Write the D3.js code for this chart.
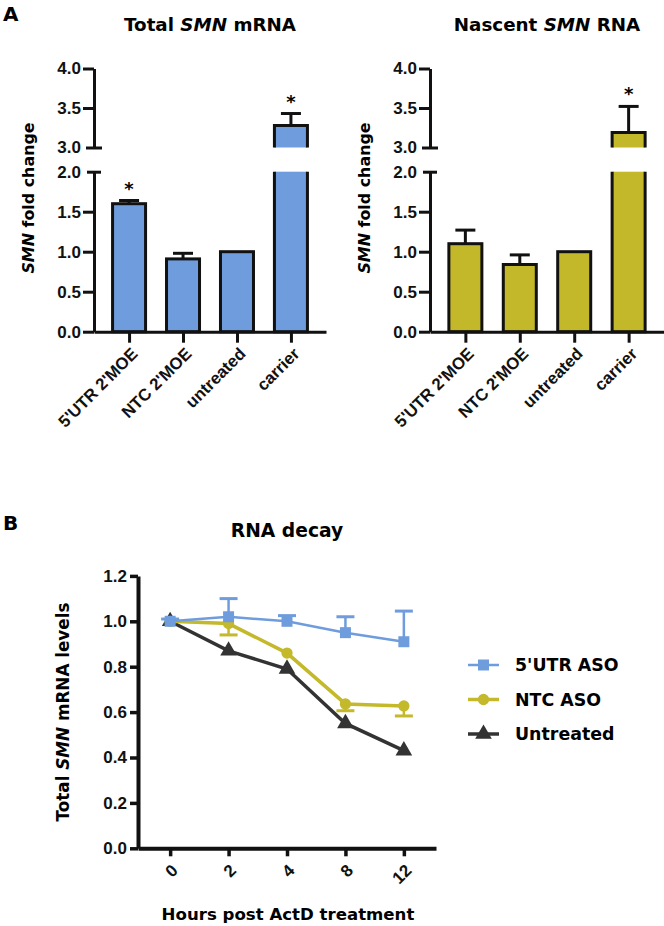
<!DOCTYPE html>
<html>
<head>
<meta charset="utf-8">
<script src="https://cdn.jsdelivr.net/npm/d3@7"></script>
<style>
  body { margin: 0; background: #fff; }
  svg { font-family: 'DejaVu Sans', sans-serif; font-weight: bold; }
</style>
</head>
<body>
<div id="chart"></div>
<script>
// Panel A data
const categories = ["5'UTR 2'MOE", "NTC 2'MOE", 'untreated', 'carrier']
const totalMean = [1.6, 0.91, 1.0, 3.28]
const totalErr = [0.04, 0.07, 0, 0.15]
const totalStar = [true, false, false, true]
const nascentMean = [1.1, 0.84, 1.0, 3.19]
const nascentErr = [0.17, 0.12, 0, 0.33]
const nascentStar = [false, false, false, true]
const lowTicks = [0, 0.5, 1.0, 1.5, 2.0]
const highTicks = [3.0, 3.5, 4.0]

// Panel B data
const hours = ['0', '2', '4', '8', '12']
const utrMean = [1.0, 1.02, 1.0, 0.95, 0.91]
const utrErr = [0.01, 0.08, 0.025, 0.07, 0.135]
const ntcMean = [1.0, 0.99, 0.86, 0.636, 0.627]
const ntcErr = [0, 0.05, 0, 0.03, 0.044]
const untMean = [1.0, 0.87, 0.79, 0.55, 0.43]
const decayTicks = [0, 0.2, 0.4, 0.6, 0.8, 1.0, 1.2]

const blue = '#6f9cdc',
  yellow = '#c4b92a',
  dark = '#333333'

const width = 664,
  height = 926

let svg = d3.select('#chart')
  .append('svg')
  .attr('width', width)
  .attr('height', height)

// Panel letters
svg.append('text').attr('x', 3).attr('y', 21).style('font-size', '20px').text('A')
svg.append('text').attr('x', 3).attr('y', 530).style('font-size', '20px').text('B')

// one bar panel with broken y axis
let barPanel = (opt) => {
  const g = svg.append('g')

  const yLow = d3.scaleLinear().domain([0, 2]).range([331.7, 171.7])
  const yHigh = d3.scaleLinear().domain([3, 4]).range([147.5, 68.5])
  const x = d3.scalePoint()
    .domain(categories)
    .range([opt.left, opt.right])
    .padding(0.65)
  const barW = 33

  // title
  const t = g.append('text')
    .attr('x', opt.titleX)
    .attr('y', 31)
    .attr('text-anchor', 'middle')
    .style('font-size', '18.3px')
  t.append('tspan').text(opt.title[0])
  t.append('tspan').style('font-style', 'italic').text(opt.title[1])
  t.append('tspan').text(opt.title[2])

  // y label
  const yl = g.append('text')
    .attr('transform', `translate(${opt.left - 66}, 198) rotate(-90)`)
    .attr('text-anchor', 'middle')
    .attr('dy', '0.35em')
    .style('font-size', '15.9px')
  yl.append('tspan').style('font-style', 'italic').text('SMN')
  yl.append('tspan').text(' fold change')

  // bars
  const data = categories.map((c, i) => ({ c: c, v: opt.mean[i], e: opt.err[i], s: opt.star[i] }))
  data.forEach(d => {
    const x0 = x(d.c) - barW / 2
    if (d.v <= 2) {
      g.append('rect')
        .attr('x', x0).attr('y', yLow(d.v))
        .attr('width', barW).attr('height', yLow(0) - yLow(d.v))
        .attr('fill', opt.color).attr('stroke', '#111').attr('stroke-width', 3)
    } else {
      g.append('rect')
        .attr('x', x0).attr('y', yLow(2))
        .attr('width', barW).attr('height', yLow(0) - yLow(2))
        .attr('fill', opt.color)
      g.append('path')
        .attr('d', `M${x0},${yLow(2)}V${yLow(0)}H${x0 + barW}V${yLow(2)}`)
        .attr('fill', 'none').attr('stroke', '#111').attr('stroke-width', 3)
      g.append('rect')
        .attr('x', x0).attr('y', yHigh(d.v))
        .attr('width', barW).attr('height', yHigh(3) - yHigh(d.v))
        .attr('fill', opt.color)
      g.append('path')
        .attr('d', `M${x0},${yHigh(3)}V${yHigh(d.v)}H${x0 + barW}V${yHigh(3)}`)
        .attr('fill', 'none').attr('stroke', '#111').attr('stroke-width', 3)
    }
    const ys = d.v > 2 ? yHigh : yLow
    let top = ys(d.v)
    if (d.e > 0) {
      top = ys(d.v + d.e)
      g.append('line')
        .attr('x1', x(d.c)).attr('x2', x(d.c))
        .attr('y1', ys(d.v)).attr('y2', top)
        .attr('stroke', '#111').attr('stroke-width', 3)
      g.append('line')
        .attr('x1', x(d.c) - 10).attr('x2', x(d.c) + 10)
        .attr('y1', top).attr('y2', top)
        .attr('stroke', '#111').attr('stroke-width', 3)
    }
    if (d.s) {
      g.append('text')
        .attr('x', x(d.c)).attr('y', top - 6)
        .attr('text-anchor', 'middle')
        .style('font-size', '18px')
        .text('*')
    }
  })

  // axes
  const styleAxis = (a) => {
    a.select('.domain').attr('stroke', '#111').attr('stroke-width', 3)
    a.selectAll('.tick line').attr('stroke', '#111').attr('stroke-width', 3)
    a.selectAll('.tick text').attr('fill', '#111').style('font-size', '17px')
  }

  const lowAxis = g.append('g')
    .attr('transform', `translate(${opt.left}, 0)`)
    .call(d3.axisLeft(yLow).tickValues(lowTicks).tickSize(11).tickSizeOuter(0).tickPadding(2).tickFormat(d3.format('.1f')))
    .call(styleAxis)
  const highAxis = g.append('g')
    .attr('transform', `translate(${opt.left}, 0)`)
    .call(d3.axisLeft(yHigh).tickValues(highTicks).tickSize(11).tickSizeOuter(0).tickPadding(2).tickFormat(d3.format('.1f')))
    .call(styleAxis)
  // break marks at 2.0 and 3.0
  lowAxis.selectAll('.tick').filter(d => d === 2).select('line').attr('x1', -7).attr('x2', 7)
  highAxis.selectAll('.tick').filter(d => d === 3).select('line').attr('x1', -8).attr('x2', 8)

  const xAxis = g.append('g')
    .attr('transform', `translate(0, ${yLow(0)})`)
    .call(d3.axisBottom(x).tickSize(11).tickSizeOuter(0))
    .call(styleAxis)
  xAxis.selectAll('.tick text')
    .attr('x', 0).attr('y', 0).attr('dy', '0.35em')
    .attr('transform', 'translate(5, 19) rotate(-45)')
    .style('text-anchor', 'end')
    .style('font-size', '16.8px')
}

barPanel({
  left: 94, right: 326, titleX: 210,
  title: ['Total ', 'SMN', ' mRNA'],
  mean: totalMean, err: totalErr, star: totalStar, color: blue
})
barPanel({
  left: 430, right: 664, titleX: 547,
  title: ['Nascent ', 'SMN', ' RNA'],
  mean: nascentMean, err: nascentErr, star: nascentStar, color: '#c2b829'
})

// Panel B: RNA decay
const gB = svg.append('g')
const xB = d3.scalePoint().domain(hours).range([138, 436]).padding(0.55)
const yB = d3.scaleLinear().domain([0, 1.2]).range([848.3, 575.9])

gB.append('text')
  .attr('x', 287).attr('y', 537)
  .attr('text-anchor', 'middle')
  .style('font-size', '18.7px')
  .text('RNA decay')

const ylB = gB.append('text')
  .attr('transform', 'translate(63, 712) rotate(-90)')
  .attr('text-anchor', 'middle')
  .attr('dy', '0.35em')
  .style('font-size', '16.8px')
ylB.append('tspan').text('Total ')
ylB.append('tspan').style('font-style', 'italic').text('SMN')
ylB.append('tspan').text(' mRNA levels')

gB.append('text')
  .attr('x', 288).attr('y', 920)
  .attr('text-anchor', 'middle')
  .style('font-size', '16.6px')
  .text('Hours post ActD treatment')

const series = [
  { name: 'Untreated', mean: untMean, err: null, color: dark, marker: d3.symbolTriangle, size: 120, width: 3.5, dir: 0 },
  { name: 'NTC ASO', mean: ntcMean, err: ntcErr, color: yellow, marker: d3.symbolCircle, size: 100, width: 3.5, dir: -1 },
  { name: "5'UTR ASO", mean: utrMean, err: utrErr, color: blue, marker: d3.symbolSquare, size: 121, width: 2.5, dir: 1 }
]

const line = d3.line()
  .x((d, i) => xB(hours[i]))
  .y(d => yB(d))

series.forEach(s => {
  const sg = gB.append('g')
  if (s.err) {
    s.mean.forEach((m, i) => {
      if (s.err[i] <= 0) return
      const y2 = yB(m + s.dir * s.err[i])
      sg.append('line')
        .attr('x1', xB(hours[i])).attr('x2', xB(hours[i]))
        .attr('y1', yB(m)).attr('y2', y2)
        .attr('stroke', s.color).attr('stroke-width', 2.5)
      sg.append('line')
        .attr('x1', xB(hours[i]) - 9).attr('x2', xB(hours[i]) + 9)
        .attr('y1', y2).attr('y2', y2)
        .attr('stroke', s.color).attr('stroke-width', 3)
    })
  }
  sg.append('path')
    .attr('d', line(s.mean))
    .attr('fill', 'none')
    .attr('stroke', s.color)
    .attr('stroke-width', s.width)
  sg.selectAll('path.pt')
    .data(s.mean)
    .enter()
    .append('path')
    .attr('class', 'pt')
    .attr('d', d3.symbol().type(s.marker).size(s.size))
    .attr('transform', (d, i) => `translate(${xB(hours[i])}, ${yB(d)})`)
    .attr('fill', s.color)
})

const axisStyleB = (a) => {
  a.select('.domain').attr('stroke', '#111').attr('stroke-width', 4)
  a.selectAll('.tick line').attr('stroke', '#111').attr('stroke-width', 3.5)
  a.selectAll('.tick text').attr('fill', '#111').style('font-size', '17px')
}

gB.append('g')
  .attr('transform', 'translate(138, 0)')
  .call(d3.axisLeft(yB).tickValues(decayTicks).tickSize(8).tickSizeOuter(0).tickPadding(3).tickFormat(d3.format('.1f')))
  .call(axisStyleB)

const xAxisB = gB.append('g')
  .attr('transform', `translate(0, ${yB(0)})`)
  .call(d3.axisBottom(xB).tickSize(8).tickSizeOuter(0))
  .call(axisStyleB)
xAxisB.selectAll('.tick text')
  .attr('x', 0).attr('y', 0).attr('dy', '0.35em')
  .attr('transform', 'translate(4, 19) rotate(-45)')
  .style('text-anchor', 'end')

// legend
const legend = gB.append('g')
series.slice().reverse().forEach((s, i) => {
  const ly = 665 + i * 34.5
  legend.append('line')
    .attr('x1', 468).attr('x2', 499)
    .attr('y1', ly).attr('y2', ly)
    .attr('stroke', s.color).attr('stroke-width', s.width)
  legend.append('path')
    .attr('d', d3.symbol().type(s.marker).size(s.size))
    .attr('transform', `translate(483.5, ${ly})`)
    .attr('fill', s.color)
  legend.append('text')
    .attr('x', 515).attr('y', ly)
    .attr('dy', '0.36em')
    .style('font-size', '17.4px')
    .text(s.name)
})
</script>
</body>
</html>
